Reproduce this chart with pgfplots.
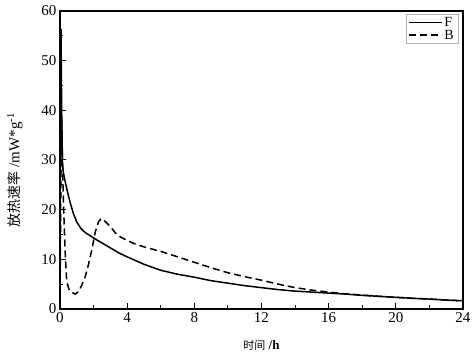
\documentclass[border=0pt]{standalone}
\usepackage{pgfplots}
\pgfplotsset{compat=1.18}
\usepackage{fontspec}
\setmainfont{Liberation Serif}
\newfontfamily\cjk{Noto Sans CJK SC}
\begin{document}
\begin{tikzpicture}
\begin{axis}[
  scale only axis,
  width=403pt, height=298pt,
  xmin=0, xmax=24, ymin=0, ymax=60,
  xtick={0,4,...,24}, ytick={0,10,...,60},
  minor x tick num=1, minor y tick num=1,
  xtick pos=left, ytick pos=left,
  tick align=inside,
  major tick length=6pt, minor tick length=3.5pt,
  every tick/.style={black, line width=1pt},
  axis line style={line width=1.1pt},
  /pgf/number format/assume math mode=true,
  tick label style={font=\fontsize{15}{17}\selectfont},
  xlabel={{\fontsize{11}{13}\selectfont\cjk 时间} \textbf{/h}},
  ylabel={{\fontsize{14}{16}\selectfont\cjk 放热速率} /mW*g\textsuperscript{-1}},
  xlabel style={font=\fontsize{13}{15}\selectfont, at={(axis description cs:0.5,-0.121)}, anchor=center},
  ylabel style={font=\fontsize{15}{17}\selectfont, at={(axis description cs:-0.112,0.466)}, anchor=center},
  legend style={at={(0.9875,0.99)}, anchor=north east, draw=gray!60,
    font=\fontsize{14}{16}\selectfont, inner xsep=2pt, inner ysep=1pt, row sep=-2pt},
  legend cell align=left,
  legend image code/.code={\draw[#1, line width=1.5pt] (0pt,0pt) -- (33pt,0pt);},
]
\addplot[black, line width=1.5pt] coordinates {
(0,0) (0.03,50) (0.06,56.4) (0.1,40) (0.15,29) (0.2,27.5) (0.3,25.8) (0.45,23.5)
(0.6,21.5) (0.8,19.2) (1.0,17.5) (1.25,16.2) (1.5,15.4) (2,14.3) (2.5,13.3)
(3,12.3) (3.5,11.3) (4,10.5) (5,9.0) (6,7.8) (7,7.0) (8,6.4) (9,5.7) (10,5.2)
(11,4.7) (12,4.3) (13,3.9) (14,3.6) (15,3.4) (16,3.2) (17,3.0) (18,2.75)
(19,2.55) (20,2.35) (21,2.15) (22,2.0) (23,1.8) (24,1.65)
};
\addlegendentry{F}
\addplot[black, line width=1.5pt, dash pattern=on 7pt off 4pt] coordinates {
(0,0) (0.05,25) (0.1,38) (0.15,30) (0.2,22) (0.3,12) (0.4,5.5) (0.55,3.8)
(0.75,3.3) (0.9,3.0) (1.1,3.5) (1.3,4.8) (1.5,6.5) (1.7,9) (1.9,12) (2.1,15.5)
(2.3,17.6) (2.45,18.2) (2.7,17.6) (3.0,16.6) (3.3,15.3) (3.6,14.5) (4,13.8)
(4.4,13.2) (5,12.5) (6,11.6) (7,10.5) (8,9.4) (9,8.3) (10,7.3) (11,6.5)
(12,5.8) (13,5.0) (14,4.3) (15,3.8) (16,3.4) (17,3.05) (18,2.8) (19,2.55)
(20,2.35) (21,2.15) (22,2.0) (23,1.8) (24,1.65)
};
\addlegendentry{B}
\end{axis}
\pgfresetboundingbox
\useasboundingbox ([xshift=-60pt,yshift=-49pt]current axis.south west) rectangle ([xshift=11pt,yshift=11pt]current axis.north east);
\end{tikzpicture}
\end{document}
